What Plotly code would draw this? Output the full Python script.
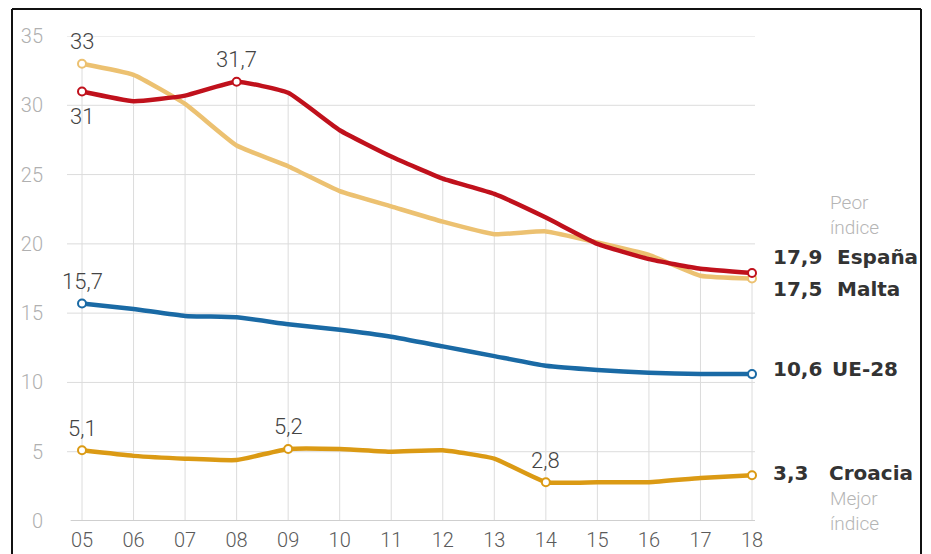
import plotly.graph_objects as go

# ---------------- data ----------------
years = [5, 6, 7, 8, 9, 10, 11, 12, 13, 14, 15, 16, 17, 18]
year_labels = ["05", "06", "07", "08", "09", "10", "11", "12", "13", "14", "15", "16", "17", "18"]

espana = [31.0, 30.3, 30.7, 31.7, 30.9, 28.2, 26.3, 24.7, 23.6, 21.9, 20.0, 18.9, 18.2, 17.9]
malta = [33.0, 32.2, 30.1, 27.1, 25.6, 23.8, 22.7, 21.6, 20.7, 20.9, 20.1, 19.2, 17.7, 17.5]
ue28 = [15.7, 15.3, 14.8, 14.7, 14.2, 13.8, 13.3, 12.6, 11.9, 11.2, 10.9, 10.7, 10.6, 10.6]
croacia = [5.1, 4.7, 4.5, 4.4, 5.2, 5.2, 5.0, 5.1, 4.5, 2.8, 2.8, 2.8, 3.1, 3.3]

y_ticks = [0, 5, 10, 15, 20, 25, 30, 35]

# indices of labelled points (besides the last one)
espana_marks = [0, 3]
malta_marks = [0]
ue28_marks = [0]
croacia_marks = [0, 4, 9]

# ---------------- styles ----------------
colors = {"España": "#c0111c", "Malta": "#ecc171", "UE-28": "#1a6aa5", "Croacia": "#db9a14"}
FONT = "Roboto"
LABEL_COLOR = "#444444"

W, H = 923, 546          # page has an 8px body margin
ML, MR, MT, MB = 59, 176, 28, 33
PW, PH = W - ML - MR, H - MT - MB


def fmt(v):
    if abs(v - round(v)) < 1e-9:
        return str(int(round(v)))
    return f"{v:.1f}".replace(".", ",")


fig = go.Figure()

series = [
    ("Malta", malta, malta_marks),
    ("España", espana, espana_marks),
    ("UE-28", ue28, ue28_marks),
    ("Croacia", croacia, croacia_marks),
]

# vertical drop gridlines from the top series value down to zero
top_vals = [max(a, b, c, d) for a, b, c, d in zip(espana, malta, ue28, croacia)]
shapes = []
for x, top in zip(years, top_vals):
    shapes.append(dict(type="line", xref="x", yref="y", x0=x, x1=x, y0=0, y1=top,
                       line=dict(color="#dcdcdc", width=1), layer="below"))
# horizontal grid
for t in y_ticks[1:]:
    shapes.append(dict(type="line", xref="x", yref="y", x0=4.709, x1=18.058, y0=t, y1=t,
                       line=dict(color="#dcdcdc", width=1), layer="below"))
# zero line
shapes.append(dict(type="line", xref="x", yref="y", x0=4.78, x1=18.2, y0=0, y1=0,
                   line=dict(color="#cfcfcf", width=2), layer="below"))
# frame (pixel positions converted to paper units)
fx0, fx1, fy0 = 4, 913, 1
for (a, b, c, d) in [(fx0, fx0, fy0, H + 20), (fx1, fx1, fy0, H + 20), (fx0, fx1, fy0, fy0)]:
    shapes.append(dict(type="line", xref="paper", yref="paper",
                       x0=(a - ML) / PW, x1=(b - ML) / PW,
                       y0=1 + (MT - c) / PH, y1=1 + (MT - d) / PH,
                       line=dict(color="#111111", width=2)))

for name, vals, marks in series:
    fig.add_trace(go.Scatter(x=years, y=vals, mode="lines", name=name,
                             line=dict(color=colors[name], width=4.5, shape="spline", smoothing=0.4),
                             hoverinfo="skip", showlegend=False, cliponaxis=False))
for name, vals, marks in series:
    idx = marks + [len(vals) - 1]
    fig.add_trace(go.Scatter(x=[years[i] for i in idx], y=[vals[i] for i in idx], mode="markers",
                             marker=dict(size=8, color="white", line=dict(color=colors[name], width=2)),
                             hoverinfo="skip", showlegend=False, cliponaxis=False))

annotations = []
# point labels
label_specs = [
    (espana, espana_marks, [-1, 1]),  # -1 below, 1 above
    (malta, malta_marks, [1]),
    (ue28, ue28_marks, [1]),
    (croacia, croacia_marks, [1, 1, 1]),
]
for vals, marks, dirs in label_specs:
    for i, d in zip(marks, dirs):
        annotations.append(dict(x=years[i], y=vals[i], xref="x", yref="y", text=fmt(vals[i]),
                                showarrow=False, yshift=22 if d > 0 else -25,
                                font=dict(family=FONT, size=22, color=LABEL_COLOR, weight=300)))

# end labels: value + name
end_shift = {"España": 16, "Malta": -10, "UE-28": 5, "Croacia": 2}
name_x = {"España": 83, "Malta": 83, "UE-28": 78, "Croacia": 75}
END_FONT = dict(family="DejaVu Sans", size=20, color="#333333", weight="bold")
for name, vals in [("España", espana), ("Malta", malta), ("UE-28", ue28), ("Croacia", croacia)]:
    annotations.append(dict(x=years[-1], y=vals[-1], xref="x", yref="y",
                            text=fmt(vals[-1]), showarrow=False,
                            xanchor="left", xshift=19, yshift=end_shift[name], font=END_FONT))
    annotations.append(dict(x=years[-1], y=vals[-1], xref="x", yref="y",
                            text=name, showarrow=False,
                            xanchor="left", xshift=name_x[name], yshift=end_shift[name], font=END_FONT))

annotations.append(dict(x=years[-1], y=22.05, xref="x", yref="y", text="Peor<br>índice", showarrow=False,
                        xanchor="left", align="left", xshift=76,
                        font=dict(family=FONT, size=19, color="#b5b5b5", weight=300)))
annotations.append(dict(x=years[-1], y=0.69, xref="x", yref="y", text="Mejor<br>índice", showarrow=False,
                        xanchor="left", align="left", xshift=76,
                        font=dict(family=FONT, size=19, color="#b5b5b5", weight=300)))

fig.update_layout(
    width=W, height=H,
    margin=dict(l=ML, r=MR, t=MT, b=MB, autoexpand=False),
    paper_bgcolor="white", plot_bgcolor="white",
    shapes=shapes, annotations=annotations,
    xaxis=dict(range=[4.709, 18.058], tickvals=years, ticktext=year_labels, showgrid=False,
               zeroline=False, showline=False, ticks="", ticklabelstandoff=5,
               tickfont=dict(family=FONT, size=20, color="#5a5a5a", weight=300), fixedrange=True),
    yaxis=dict(range=[0, 35], tickvals=y_ticks, showgrid=False, zeroline=False, showline=False,
               ticks="", ticklabelstandoff=23,
               tickfont=dict(family=FONT, size=20, color="#b0b0b0", weight=300), fixedrange=True),
)

fig.write_html("out.html")
